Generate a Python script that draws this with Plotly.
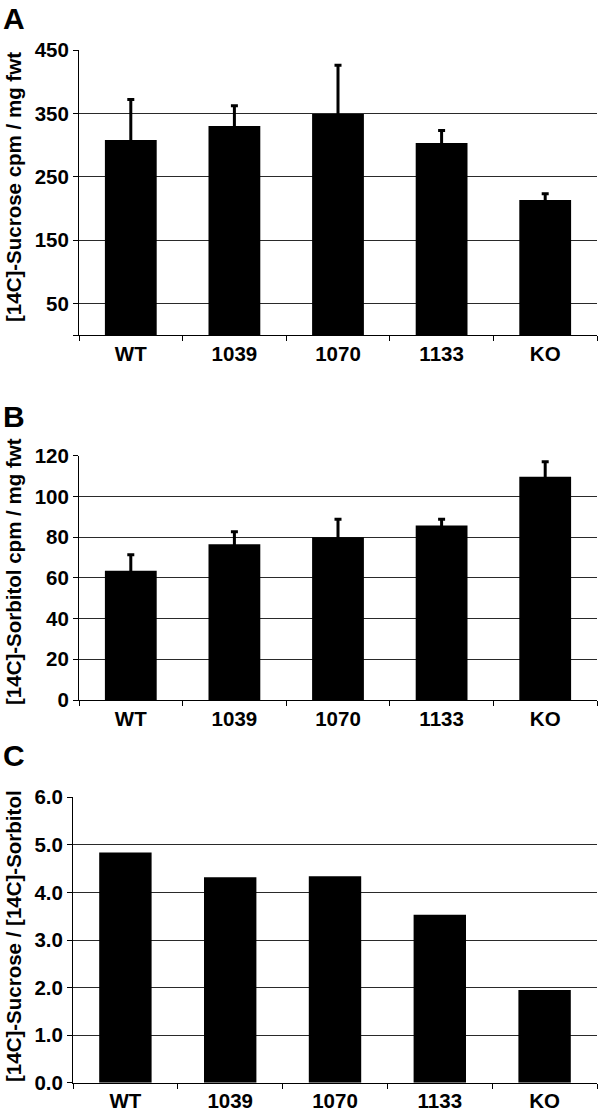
import plotly.graph_objects as go

# ---- data ----
categories = ["WT", "1039", "1070", "1133", "KO"]
sucrose = [308, 330, 349, 303, 213]
sucrose_err = [64, 32, 77, 20, 10]
sorbitol = [63.5, 76.5, 80, 85.7, 109.7]
sorbitol_err = [7.8, 6.2, 8.8, 3.1, 7.3]
ratio = [4.84, 4.32, 4.34, 3.53, 1.95]

A_ticks = [0, 50, 150, 250, 350, 450]
A_ticktext = ["", "50", "150", "250", "350", "450"]
B_ticks = [0, 20, 40, 60, 80, 100, 120]
C_ticks = [0, 1, 2, 3, 4, 5, 6]

W, H = 600, 1111
FONT = "Liberation Sans, Arial, sans-serif"


def px_x(p):
    return p / W


def px_y(p):
    return 1 - p / H


fig = go.Figure()

err_style = dict(type="data", symmetric=True, color="black", thickness=3, width=3.5)
invisible = dict(size=2, color="rgba(0,0,0,0)")

# error bars first (drawn beneath the bars; lower half hidden by the bar)
fig.add_trace(go.Scatter(x=categories, y=sucrose, mode="markers", marker=invisible,
                         error_y=dict(array=sucrose_err, **err_style),
                         xaxis="x", yaxis="y", showlegend=False, hoverinfo="skip"))
fig.add_trace(go.Bar(x=categories, y=sucrose, marker=dict(color="black", line=dict(width=0)),
                     xaxis="x", yaxis="y", showlegend=False))
fig.add_trace(go.Scatter(x=categories, y=sorbitol, mode="markers", marker=invisible,
                         error_y=dict(array=sorbitol_err, **err_style),
                         xaxis="x2", yaxis="y2", showlegend=False, hoverinfo="skip"))
fig.add_trace(go.Bar(x=categories, y=sorbitol, marker=dict(color="black", line=dict(width=0)),
                     xaxis="x2", yaxis="y2", showlegend=False))
fig.add_trace(go.Bar(x=categories, y=ratio, marker=dict(color="black", line=dict(width=0)),
                     xaxis="x3", yaxis="y3", showlegend=False))

tickfont = dict(family=FONT, size=20.5, color="black", weight="bold")

xcommon = dict(type="category", showline=True, linecolor="black", linewidth=1,
               ticks="outside", tickson="boundaries", ticklen=5, tickcolor="black",
               showgrid=False, tickfont=tickfont, automargin=False, fixedrange=True)
ycommon = dict(showline=True, linecolor="black", linewidth=1, ticks="outside", ticklen=5,
               tickcolor="black", showgrid=True, gridcolor="#2a2a2a", gridwidth=1,
               zeroline=False, tickfont=tickfont, automargin=False, fixedrange=True)

fig.update_layout(
    width=W, height=H,
    margin=dict(l=0, r=0, t=0, b=0),
    paper_bgcolor="white", plot_bgcolor="white",
    bargap=0.5,
    xaxis=dict(domain=[px_x(79), px_x(597)], anchor="y", **xcommon),
    yaxis=dict(domain=[px_y(335), px_y(50)], anchor="x", range=[0, 450],
               tickvals=A_ticks, ticktext=A_ticktext, **ycommon),
    xaxis2=dict(domain=[px_x(79), px_x(597)], anchor="y2", **xcommon),
    yaxis2=dict(domain=[px_y(700), px_y(455.7)], anchor="x2", range=[0, 120],
                tickvals=B_ticks, **ycommon),
    xaxis3=dict(domain=[px_x(73), px_x(597)], anchor="y3", **xcommon),
    yaxis3=dict(domain=[px_y(1082.7), px_y(797.3)], anchor="x3", range=[0, 6],
                tickvals=C_ticks, tickformat=".1f", **ycommon),
)

# panel letters
for letter, yc in [("A", 18), ("B", 417), ("C", 755.5)]:
    fig.add_annotation(text=letter, xref="paper", yref="paper", x=px_x(1), y=px_y(yc),
                       xanchor="left", yanchor="middle", showarrow=False,
                       font=dict(family=FONT, size=30, color="black", weight="bold"))

# y titles
for title, yc in [("[14C]-Sucrose cpm / mg fwt", 187),
                  ("[14C]-Sorbitol cpm / mg fwt", 572),
                  ("[14C]-Sucrose / [14C]-Sorbitol", 936)]:
    fig.add_annotation(text=title, xref="paper", yref="paper", x=px_x(13), y=px_y(yc),
                       xanchor="center", yanchor="middle", textangle=-90, showarrow=False,
                       font=dict(family=FONT, size=20.5, color="black", weight="bold"))

fig.write_html("out.html", config={"displayModeBar": False},
               post_script="document.body.style.margin='0';")
